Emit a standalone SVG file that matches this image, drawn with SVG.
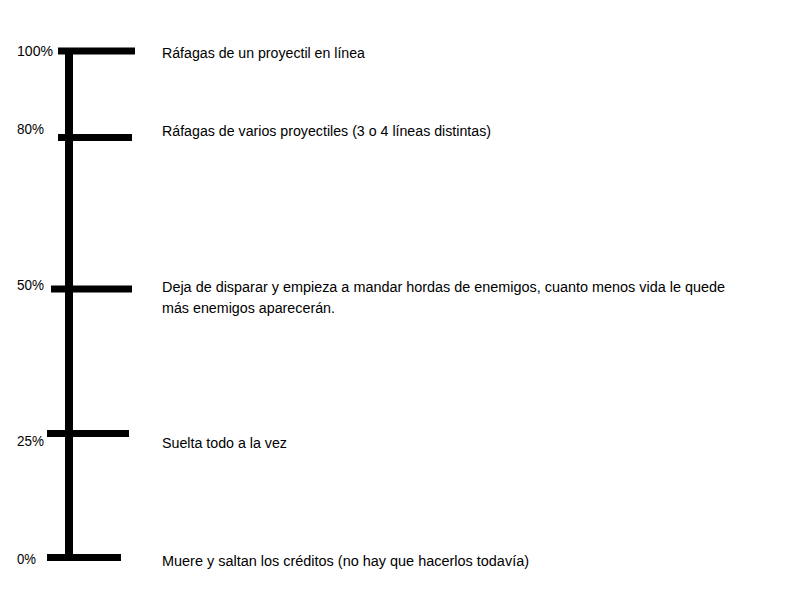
<svg xmlns="http://www.w3.org/2000/svg" width="800" height="600" viewBox="0 0 800 600">
<style>
.bar{stroke:#000;stroke-width:7;fill:none}
.axis{stroke:#000;stroke-width:8;fill:none}
text{font-family:"Liberation Sans",Arial,sans-serif;font-size:14px;fill:#000}
</style>
<rect width="800" height="600" fill="#fff"/>
<g id="connectors">
<line class="axis" x1="69" y1="50" x2="69" y2="557"/>
</g>
<g id="tick-100">
<line class="bar" x1="58" y1="51" x2="135" y2="51"/>
<text x="17" y="56" textLength="36" lengthAdjust="spacingAndGlyphs">100%</text>
<text x="162" y="58" textLength="203" lengthAdjust="spacingAndGlyphs">Ráfagas de un proyectil en línea</text>
</g>
<g id="tick-80">
<line class="bar" x1="58" y1="137.5" x2="132" y2="137.5"/>
<text x="17" y="134" textLength="27" lengthAdjust="spacingAndGlyphs">80%</text>
<text x="162" y="136" textLength="329" lengthAdjust="spacingAndGlyphs">Ráfagas de varios proyectiles (3 o 4 líneas distintas)</text>
</g>
<g id="tick-50">
<line class="bar" x1="51" y1="289" x2="132" y2="289"/>
<text x="17" y="290" textLength="27" lengthAdjust="spacingAndGlyphs">50%</text>
<text x="162" y="292" textLength="563" lengthAdjust="spacingAndGlyphs">Deja de disparar y empieza a mandar hordas de enemigos, cuanto menos vida le quede</text>
<text x="162" y="313" textLength="173" lengthAdjust="spacingAndGlyphs">más enemigos aparecerán.</text>
</g>
<g id="tick-25">
<line class="bar" x1="47" y1="433.5" x2="129" y2="433.5"/>
<text x="17" y="446" textLength="27" lengthAdjust="spacingAndGlyphs">25%</text>
<text x="162" y="448" textLength="125" lengthAdjust="spacingAndGlyphs">Suelta todo a la vez</text>
</g>
<g id="tick-0">
<line class="bar" x1="47" y1="557.5" x2="121" y2="557.5"/>
<text x="17" y="564" textLength="19" lengthAdjust="spacingAndGlyphs">0%</text>
<text x="162" y="566" textLength="367" lengthAdjust="spacingAndGlyphs">Muere y saltan los créditos (no hay que hacerlos todavía)</text>
</g>
</svg>
